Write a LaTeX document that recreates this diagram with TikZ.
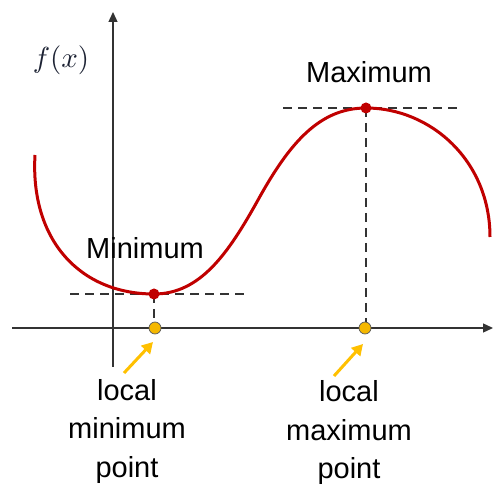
\documentclass[tikz,border=0pt]{standalone}
\usepackage{fontspec}
\setmainfont{Liberation Sans}
\usetikzlibrary{arrows.meta}
\definecolor{curvered}{HTML}{C00000}
\definecolor{gold}{HTML}{FFC000}
\definecolor{dotgold}{HTML}{F5B800}
\definecolor{axisgray}{HTML}{333333}
\definecolor{mathink}{HTML}{1C2233}
\begin{document}
\begin{tikzpicture}[x=1pt,y=-1pt,
  axis/.style={draw=axisgray, line width=1.3pt, -{Triangle[length=10pt,width=9pt]}},
  guide/.style={draw=axisgray, line width=1.2pt, dash pattern=on 9pt off 6pt},
  fcurve/.style={draw=curvered, line width=3pt},
  extremum/.style={circle, fill=curvered, inner sep=0pt, minimum size=11pt},
  critpt/.style={circle, fill=dotgold, draw=black!65, line width=0.7pt, inner sep=0pt, minimum size=12pt},
  pointer/.style={draw=gold, line width=3pt, -{Triangle[length=11pt,width=12pt]}},
  lbl/.style={font=\fontsize{29}{38.5}\selectfont, align=center, inner sep=0pt}]
\useasboundingbox (0,0) rectangle (493,486);
% axes
\coordinate (xstart) at (12,328);
\coordinate (xend) at (493,328);
\coordinate (ystart) at (113,367);
\coordinate (yend) at (113,12);
\draw[axis] (xstart) -- (xend);
\draw[axis] (ystart) -- (yend);
% guides
\coordinate (minl) at (70,294);
\coordinate (minr) at (245,294);
\coordinate (maxl) at (283,108);
\coordinate (maxr) at (458,108);
\draw[guide] (minl) -- (minr);
\draw[guide] (maxl) -- (maxr);
\draw[guide] (154,294) -- (154,328);
\draw[guide] (366,108) -- (366,328);
% curve
\draw[fcurve] (35,155) .. controls (30,240) and (80,294) .. (154,294)
  .. controls (200,294) and (228,254) .. (258,200)
  .. controls (290,142) and (320,108) .. (366,108)
  .. controls (430,108) and (490,160) .. (490,237);
\node[extremum] (minpt) at (154,294) {};
\node[extremum] (maxpt) at (366,108) {};
\node[critpt] (minx) at (155,328) {};
\node[critpt] (maxx) at (365,328) {};
% pointers
\coordinate (mintail) at (124,373);
\coordinate (minhead) at (153,342);
\coordinate (maxtail) at (334,376);
\coordinate (maxhead) at (363,344);
\draw[pointer] (mintail) -- (minhead);
\draw[pointer] (maxtail) -- (maxhead);
% labels
\node[inner sep=0pt, scale=2.9, text=mathink] (flbl) at (61,60) {$f(x)$};
\node[lbl] (maxlbl) at (369,72.5) {Maximum};
\node[lbl] (minlbl) at (145,248) {Minimum};
\node[lbl] (minptlbl) at (127,431.5) {local\\minimum\\point};
\node[lbl] (maxptlbl) at (349,433) {local\\maximum\\point};
\end{tikzpicture}
\end{document}
